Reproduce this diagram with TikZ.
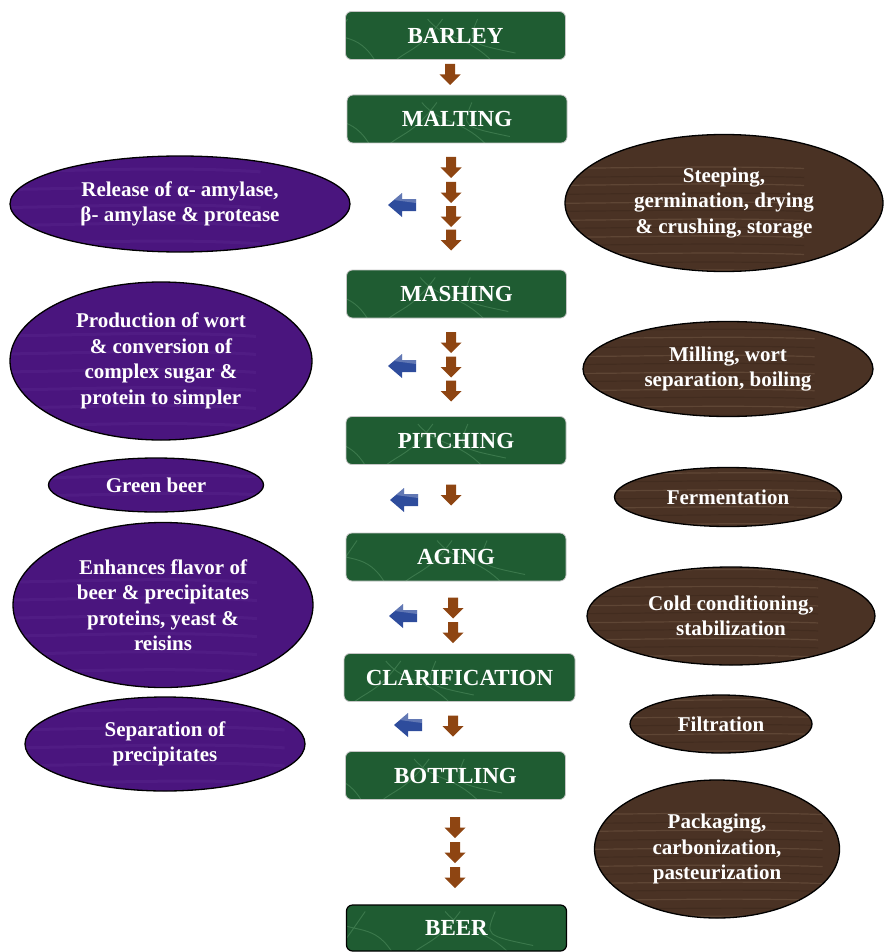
\documentclass[tikz,border=0pt]{standalone}
\usepackage{fontspec}
\setmainfont{Liberation Serif}
\usetikzlibrary{shapes.geometric}
\definecolor{boxgreen}{HTML}{1F5C32}
\definecolor{marble}{HTML}{5E9C6C}
\definecolor{purp}{HTML}{4A157E}
\definecolor{purplight}{HTML}{5C2A92}
\definecolor{wood}{HTML}{4A3224}
\definecolor{woodlight}{HTML}{7A604A}
\definecolor{wooddark}{HTML}{3A261A}
\definecolor{arrbrown}{HTML}{8E4512}
\definecolor{arrblue}{HTML}{2E4C9C}
\begin{document}
\begin{tikzpicture}[x=1pt,y=-1pt,
  stage/.style={rectangle, rounded corners=6pt, fill=boxgreen, draw=gray!45, line width=0.8pt,
    minimum width=220pt, minimum height=48pt, inner sep=0pt, text=white,
    font=\fontsize{23}{26}\selectfont\bfseries,
    path picture={\begin{scope}[shift={(path picture bounding box.center)}]
      \draw[marble, opacity=.45, line width=.9pt]
        (-100,-18) .. controls (-70,0) and (-50,-15) .. (-30,22)
        (-60,-24) .. controls (-80,5) .. (-95,24)
        (20,-24) .. controls (40,0) and (60,-10) .. (90,24)
        (70,-24) .. controls (60,0) .. (108,10)
        (-20,24) .. controls (0,5) and (10,10) .. (35,-24);
    \end{scope}}},
  leftnote/.style={ellipse, fill=purp, draw=black, line width=1.3pt, inner sep=0pt, text=white,
    align=center, font=\fontsize{21}{25.5}\selectfont\bfseries,
    path picture={\begin{scope}[shift={(path picture bounding box.center)}]
      \foreach \yy in {-70,-52,-34,-16,2,20,38,56,74}
        \draw[purplight, opacity=.35, line width=3pt] (-180,\yy) .. controls (-60,\yy+6) and (60,\yy-6) .. (180,\yy+2);
    \end{scope}}},
  rightnote/.style={ellipse, fill=wood, draw=black, line width=1.3pt, inner sep=0pt, text=white,
    align=center, font=\fontsize{21}{25.5}\selectfont\bfseries,
    path picture={\begin{scope}[shift={(path picture bounding box.center)}]
      \foreach \yy/\cc in {-66/woodlight,-57/wooddark,-49/woodlight,-40/wooddark,-31/woodlight,-23/wooddark,-14/woodlight,-6/wooddark,3/woodlight,11/wooddark,20/woodlight,29/wooddark,37/woodlight,46/wooddark,55/woodlight,63/wooddark}
        \draw[\cc, opacity=.45, line width=1.2pt] (-170,\yy) .. controls (-60,\yy+3) and (60,\yy-3) .. (170,\yy+1);
    \end{scope}}},
  down/.pic={\fill[arrbrown] (-5,-10.5) -- (5,-10.5) -- (5,0) -- (10.5,0) -- (0,10.5) -- (-10.5,0) -- (-5,0) -- cycle;},
  left/.pic={\fill[arrblue] (14,-6) -- (0,-6) -- (0,-12) -- (-14,0) -- (0,12) -- (0,6) -- (14,6) -- cycle;
             \fill[white, opacity=.25] (14,-6) -- (0,-6) -- (0,-12) -- (-8,-5) -- (14,-2) -- cycle;}
]
\useasboundingbox (0,0) rectangle (883,952);

% process stages
\node[stage] (barley)  at (455.5,35.5) {BARLEY};
\node[stage] (malting) at (457,119)    {MALTING};
\node[stage] (mashing) at (456.5,294)  {MASHING};
\node[stage] (pitching) at (456,440.5) {PITCHING};
\node[stage] (aging)   at (456,557)    {AGING};
\node[stage, minimum width=231pt] (clar) at (459.5,677.5) {CLARIFICATION};
\node[stage] (bottling) at (455.5,775.5) {BOTTLING};
\node[stage, draw=black, line width=1.2pt, minimum height=46pt] (beer) at (456.5,928) {BEER};

% brown down arrows
\pic (d0) at (450,74.5) {down};
\pic (d1a) at (451,167.5) {down};
\pic (d1b) at (451,192.5) {down};
\pic (d1c) at (451,216.5) {down};
\pic (d1d) at (451,240) {down};
\pic (d2a) at (451,342.5) {down};
\pic (d2b) at (451,367) {down};
\pic (d2c) at (451,391) {down};
\pic (d3) at (451,495) {down};
\pic (d4a) at (453,608) {down};
\pic (d4b) at (453,632.5) {down};
\pic (d5) at (453,726) {down};
\pic (d6a) at (455,827.5) {down};
\pic (d6b) at (455,852.5) {down};
\pic (d6c) at (455,877.5) {down};

% blue left arrows
\pic (l1) at (402,205) {left};
\pic (l2) at (402,366) {left};
\pic (l3) at (404,500) {left};
\pic (l4) at (403,616) {left};
\pic (l5) at (408,725) {left};

% left notes (results)
\node[leftnote, minimum width=340pt, minimum height=96pt] (p1) at (180,204)
  {Release of α- amylase,\\β- amylase \& protease};
\node[leftnote, minimum width=302pt, minimum height=158pt] (p2) at (161,361)
  {Production of wort\\\& conversion of\\complex sugar \&\\protein to simpler};
\node[leftnote, minimum width=215pt, minimum height=54pt] (p3) at (156,485)
  {Green beer};
\node[leftnote, minimum width=300pt, minimum height=165pt] (p4) at (163,605)
  {Enhances flavor of\\beer \& precipitates\\proteins, yeast \&\\reisins};
\node[leftnote, minimum width=280pt, minimum height=94pt] (p5) at (165,744)
  {Separation of\\precipitates};

% right notes (operations)
\node[rightnote, minimum width=318pt, minimum height=137pt] (r1) at (724,203)
  {Steeping,\\germination, drying\\\& crushing, storage};
\node[rightnote, minimum width=290pt, minimum height=95pt] (r2) at (728,369)
  {Milling, wort\\separation, boiling};
\node[rightnote, minimum width=227pt, minimum height=59pt] (r3) at (728,497)
  {Fermentation};
\node[rightnote, minimum width=288pt, minimum height=98pt] (r4) at (731,616)
  {Cold conditioning,\\stabilization};
\node[rightnote, minimum width=182pt, minimum height=58pt] (r5) at (721,724)
  {Filtration};
\node[rightnote, minimum width=245pt, minimum height=138pt] (r6) at (717,849)
  {Packaging,\\carbonization,\\pasteurization};
\end{tikzpicture}
\end{document}
